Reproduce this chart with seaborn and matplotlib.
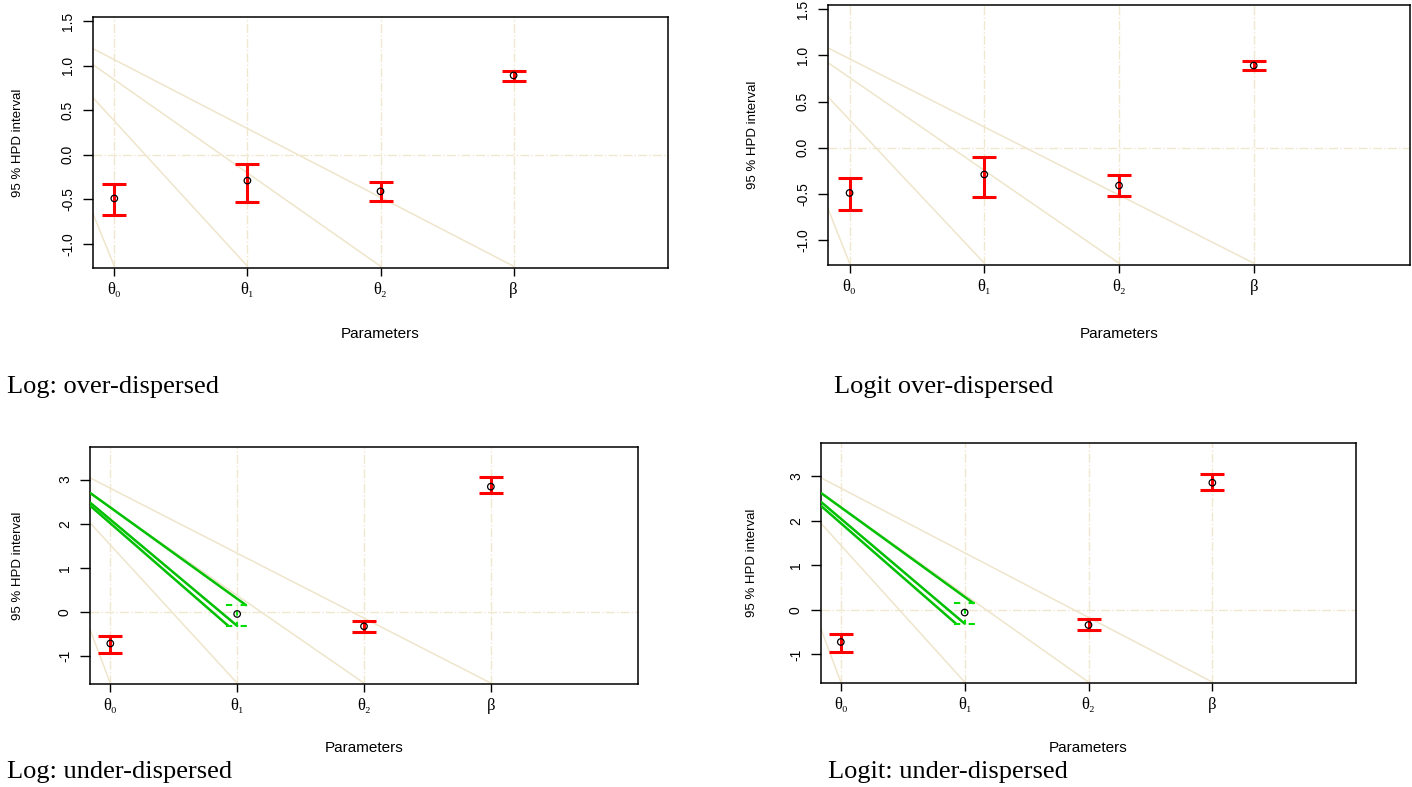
import numpy as np
import pandas as pd
import matplotlib
matplotlib.use('Agg')
import matplotlib.pyplot as plt
import seaborn as sns

# parameter names on the x axis
params = ['θ₀', 'θ₁', 'θ₂', 'β']
xpos = [1, 2, 3, 4]

# posterior estimate and 95% HPD bounds
log_over_est = [-0.49, -0.29, -0.41, 0.89]
log_over_lo = [-0.67, -0.53, -0.52, 0.83]
log_over_hi = [-0.33, -0.10, -0.31, 0.94]

logit_over_est = [-0.49, -0.29, -0.41, 0.89]
logit_over_lo = [-0.67, -0.53, -0.52, 0.84]
logit_over_hi = [-0.33, -0.10, -0.30, 0.94]

log_under_est = [-0.72, -0.05, -0.33, 2.84]
log_under_lo = [-0.94, -0.32, -0.45, 2.69]
log_under_hi = [-0.55, 0.15, -0.20, 3.05]

logit_under_est = [-0.72, -0.06, -0.34, 2.85]
logit_under_lo = [-0.94, -0.31, -0.45, 2.69]
logit_under_hi = [-0.55, 0.15, -0.20, 3.05]

# faint diagonal lines: value where each one leaves the left edge
# (each runs down to the foot of one parameter)
log_over_diag = [-0.66, 0.64, 1.01, 1.19]
logit_over_diag = [-0.66, 0.55, 0.92, 1.08]
log_under_diag = [-0.40, 2.02, 2.68, 3.04]
logit_under_diag = [-0.43, 1.94, 2.62, 2.96]

# green lines on the under-dispersed panels (left edge values)
log_under_green = [2.70, 2.48, 2.41]
logit_under_green = [2.62, 2.42, 2.33]

captions = ['Log: over-dispersed', 'Logit over-dispersed',
            'Log: under-dispersed', 'Logit: under-dispersed']

over_ylim = (-1.27, 1.545)
under_ylim = (-1.64, 3.74)
over_yticks = [-1.0, -0.5, 0.0, 0.5, 1.0, 1.5]
under_yticks = [-1, 0, 1, 2, 3]
xlim = (0.84, 5.16)

W, H = 1412, 787
tan = '#EEE5CB'
grid_col = '#F1E7CF'

sns.set_theme(style='ticks')
plt.rcParams['font.family'] = ['Liberation Sans', 'DejaVu Sans']
plt.rcParams['text.color'] = 'black'
plt.rcParams['axes.labelcolor'] = 'black'
plt.rcParams['xtick.color'] = 'black'
plt.rcParams['ytick.color'] = 'black'

fig = plt.figure(figsize=(W / 100, H / 100), dpi=100)


def box(l, t, r, b):
    # pixel box -> figure fraction
    return [l / W, 1 - b / H, (r - l) / W, (b - t) / H]


def hpd_panel(pix, est, lo, hi, diag, ylim, yticks, ylabfmt, green=None,
              xlab_y=0, ylab_x=0):
    ax = fig.add_axes(box(*pix))
    ax.set_xlim(*xlim)
    ax.set_ylim(*ylim)

    # dotted grid at each parameter and at zero
    for x in xpos:
        ax.axvline(x, color=grid_col, lw=1, ls='-.', zorder=1)
    ax.axhline(0, color=grid_col, lw=1, ls='-.', zorder=1)

    # diagonal guide lines
    foot = ylim[0] + 0.02
    rows = []
    for i, v in enumerate(diag):
        rows.append({'x': xlim[0], 'y': v, 'line': i})
        rows.append({'x': xpos[i], 'y': foot, 'line': i})
    dd = pd.DataFrame(rows)
    sns.lineplot(data=dd, x='x', y='y', units='line', estimator=None,
                 color=tan, lw=1.1, ax=ax, zorder=2)

    red_idx = [0, 1, 2, 3]
    if green is not None:
        red_idx = [0, 2, 3]
        x1 = xpos[1]
        ends_x = [x1 + 0.07, x1, x1 - 0.07]
        ends_y = [hi[1], lo[1], lo[1]]
        for g, ex, ey in zip(green, ends_x, ends_y):
            ax.plot([xlim[0], ex], [g, ey], color='#00C000', lw=1.8, zorder=3)
        # dashed green interval for theta1
        ax.vlines(x1, lo[1], hi[1], color='#00DD00', lw=1.5, ls=(0, (2, 3)), zorder=4)
        ax.hlines([lo[1], hi[1]], x1 - 0.09, x1 + 0.09, color='#00DD00',
                  lw=1.5, ls=(0, (3, 4)), zorder=4)

    xr = np.array(xpos)[red_idx]
    er = np.array(est)[red_idx]
    yerr = [er - np.array(lo)[red_idx], np.array(hi)[red_idx] - er]
    ax.errorbar(xr, er, yerr=yerr, fmt='none', ecolor='#FF0000', elinewidth=2.2,
                capsize=8.3, capthick=2.2, zorder=5)

    sns.scatterplot(x=xpos, y=est, ax=ax, marker='o', s=22,
                    facecolors='none', edgecolor='black', linewidth=0.9, zorder=6)

    ax.set_xticks(xpos)
    ax.set_xticklabels(params, family=['Liberation Serif', 'DejaVu Serif'], fontsize=12)
    ax.set_yticks(yticks)
    ax.set_yticklabels([ylabfmt.format(v) for v in yticks], fontsize=10,
                       rotation=90, va='center')
    ax.tick_params(axis='x', length=6, width=1, pad=4, color='black')
    ax.tick_params(axis='y', length=7, width=1, pad=6, color='black')
    for s in ax.spines.values():
        s.set_visible(True)
        s.set_color('black')
        s.set_linewidth(1.1)

    l, t, r, b = pix
    ax.set_xlabel('Parameters', fontsize=11)
    ax.xaxis.set_label_coords(0.5, -(xlab_y - b) / (b - t))
    ax.xaxis.label.set_va('center')
    ax.set_ylabel('95 % HPD interval', fontsize=9.5)
    ax.yaxis.set_label_coords(-(l - ylab_x) / (r - l), 0.5)
    ax.yaxis.label.set_va('center')
    return ax


hpd_panel((93, 17, 668, 268), log_over_est, log_over_lo, log_over_hi,
          log_over_diag, over_ylim, over_yticks, '{:.1f}', xlab_y=334, ylab_x=18)
hpd_panel((828, 5, 1410, 265), logit_over_est, logit_over_lo, logit_over_hi,
          logit_over_diag, over_ylim, over_yticks, '{:.1f}', xlab_y=334, ylab_x=753)
hpd_panel((90, 447, 638, 684), log_under_est, log_under_lo, log_under_hi,
          log_under_diag, under_ylim, under_yticks, '{:d}', green=log_under_green,
          xlab_y=748, ylab_x=18)
hpd_panel((821, 443, 1356, 683), logit_under_est, logit_under_lo, logit_under_hi,
          logit_under_diag, under_ylim, under_yticks, '{:d}', green=logit_under_green,
          xlab_y=748, ylab_x=752)

# captions under each panel
cap_pos = [(7, 393), (834, 393), (7, 778), (828, 778)]
for txt, (cx, cy) in zip(captions, cap_pos):
    fig.text(cx / W, 1 - cy / H, txt, fontsize=19, va='baseline', ha='left',
             family=['Liberation Serif', 'DejaVu Serif'])

fig.savefig('out.png', dpi=100)
